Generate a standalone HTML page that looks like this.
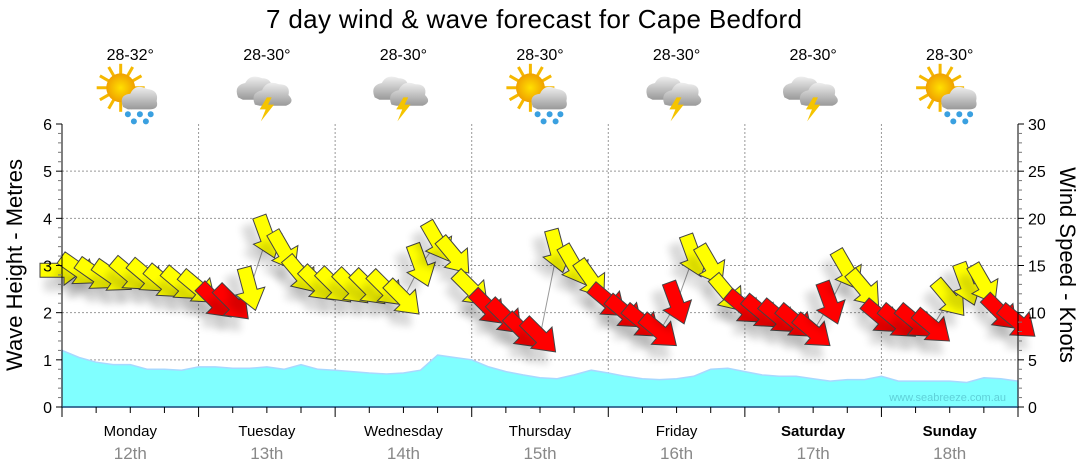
<!DOCTYPE html>
<html><head><meta charset="utf-8"><style>
body{margin:0;background:#fff;font-family:"Liberation Sans",sans-serif}
svg{display:block}
</style></head><body>
<svg id="c" width="1080" height="475" viewBox="0 0 1080 475" xmlns="http://www.w3.org/2000/svg">
<defs>
<filter id="sh" x="-50%" y="-50%" width="200%" height="200%"><feGaussianBlur stdDeviation="4"/></filter>
<radialGradient id="sun" cx="50%" cy="50%" r="50%"><stop offset="0" stop-color="#ffe000"/><stop offset="1" stop-color="#f0a000"/></radialGradient>
<linearGradient id="cl" x1="0" y1="0" x2="0" y2="1"><stop offset="0" stop-color="#eee"/><stop offset="1" stop-color="#999"/></linearGradient>
</defs>
<text x="534" y="28" text-anchor="middle" font-size="26" fill="#000" textLength="536">7 day wind &amp; wave forecast for Cape Bedford</text>
<g id="grid"></g><g id="wave"></g><g id="wind"></g><g id="axes"></g><g id="icons"></g>
<text x="1006" y="401" text-anchor="end" font-size="11" fill="#5fd0d8">www.seabreeze.com.au</text>
<text transform="translate(22,265) rotate(-90)" text-anchor="middle" font-size="22">Wave Height - Metres</text>
<text transform="translate(1060,265) rotate(90)" text-anchor="middle" font-size="22">Wind Speed - Knots</text>
</svg>
<script>
const days=["Monday","Tuesday","Wednesday","Thursday","Friday","Saturday","Sunday"];
const dates=["12th","13th","14th","15th","16th","17th","18th"];
const bold=[false,false,false,false,false,true,true];
const temps=["28-32°","28-30°","28-30°","28-30°","28-30°","28-30°","28-30°"];
const icons=["sunrain","storm","storm","sunrain","storm","storm","sunrain"];
const wave=[1.2,1.05,0.95,0.9,0.9,0.8,0.8,0.78,
0.85,0.85,0.82,0.82,0.85,0.8,0.9,0.8,
0.78,0.75,0.72,0.7,0.72,0.78,1.1,1.05,
1.0,0.85,0.75,0.68,0.62,0.6,0.68,0.78,
0.72,0.65,0.6,0.58,0.6,0.65,0.8,0.82,
0.75,0.68,0.65,0.65,0.6,0.55,0.58,0.58,
0.65,0.55,0.55,0.55,0.55,0.52,0.62,0.6,0.55];
const wind=[14.5,14.5,14,13.8,14,13.8,13.2,13,
12.6,11.2,11,12.5,18,16.5,14,13,
12.8,12.7,12.6,12.5,11.5,15,17.5,16,
12.5,10.5,9.5,8,7.5,16.5,15,13.5,
11.2,10,9,8,11,16,15,12,
10.5,10,9.5,9,8,11,14.5,12.5,
9.5,9,9,8.5,11.5,13,13,10,9];
const dirs=[0,35,35,35,40,40,40,40,
40,45,45,75,70,60,50,45,
45,45,45,45,45,70,60,50,
45,45,45,45,45,75,60,55,
40,40,40,40,70,70,60,50,
40,40,40,40,40,70,60,50,
40,40,40,40,50,70,60,45,40];
const X0=62,X1=1018,Y0=407,Y1=124;
const xs=i=>X0+(X1-X0)*i/56;
const yW=v=>Y0-(Y0-Y1)*v/6;
const yK=v=>Y0-(Y0-Y1)*v/30;
const NS="http://www.w3.org/2000/svg";
function mk(p,t,a){const e=document.createElementNS(NS,t);for(const k in a)e.setAttribute(k,a[k]);p.appendChild(e);return e;}
const G=id=>document.getElementById(id);
for(let m=1;m<=5;m++){const l=mk(G('grid'),'line',{x1:X0,x2:X1,y1:yW(m),y2:yW(m),stroke:'#999','stroke-dasharray':'2,2'});

}
for(let d=1;d<7;d++){const x=X0+(X1-X0)*d/7;const l=mk(G('grid'),'line',{x1:x,x2:x,y1:Y1,y2:Y0,stroke:'#999','stroke-dasharray':'2,2'});

}
let d='M'+X0+','+Y0;wave.forEach((v,i)=>d+=' L'+xs(i).toFixed(1)+','+yW(v).toFixed(1));d+=' L'+X1+','+Y0+'Z';
const wa=mk(G('wave'),'path',{d:d,fill:'#80ffff',stroke:'#a8d8ff','stroke-width':1.5});


let ld='';wind.forEach((v,i)=>ld+=(i?' L':'M')+xs(i).toFixed(1)+','+yK(v).toFixed(1));
const wl=mk(G('wind'),'path',{d:'M'+X0+','+Y0+' L'+ld.slice(1),fill:'none',stroke:'#999'});


const arrow="M-22,-7 L2,-7 L2,-15 L22,0 L2,15 L2,7 L-22,7 Z";
wind.forEach((v,i)=>{const g=mk(G('wind'),'g',{transform:`translate(${xs(i).toFixed(1)},${yK(v).toFixed(1)}) rotate(${dirs[i]})`});


mk(g,'path',{d:arrow,fill:'#000',opacity:0.15,filter:'url(#sh)',transform:'translate(4,14)'});
mk(g,'path',{d:arrow,fill:v>=11.5?'#ffff00':'#ff0000',stroke:'#444','stroke-width':1});});
const A=G('axes');
mk(A,'line',{x1:X0,x2:X0,y1:Y1,y2:Y0,stroke:'#000'});
mk(A,'line',{x1:X1,x2:X1,y1:Y1,y2:Y0,stroke:'#000'});
mk(A,'line',{x1:X0,x2:X1,y1:Y0,y2:Y0,stroke:'#1a4e7a','stroke-width':1.5});
for(let k=0;k<=30;k++){const y=Y0-(Y0-Y1)*k/30;const maj=k%5==0;
mk(A,'line',{x1:X0-(maj?6:4),x2:X0,y1:y,y2:y,stroke:maj?'#000':'#777'});
mk(A,'line',{x1:X1,x2:X1+(maj?6:4),y1:y,y2:y,stroke:maj?'#000':'#777'});
if(maj){const t=mk(A,'text',{x:X0-10,y:y+6,'text-anchor':'end','font-size':16});t.textContent=k/5;


const r=mk(A,'text',{x:X1+10,y:y+6,'font-size':16});r.textContent=k;

}}
for(let q=0;q<=28;q++){const x=X0+(X1-X0)*q/28;mk(A,'line',{x1:x,x2:x,y1:Y0,y2:Y0+(q%4==0?10:6),stroke:'#000'});}
days.forEach((n,i)=>{const cx=X0+(X1-X0)*(i+0.5)/7;
const t=mk(A,'text',{x:cx,y:436,'text-anchor':'middle','font-size':15,'font-weight':bold[i]?'bold':'normal'});t.textContent=n;


const s=mk(A,'text',{x:cx,y:459,'text-anchor':'middle','font-size':17,fill:'#888'});s.textContent=dates[i];


const tt=mk(G('icons'),'text',{x:cx,y:60,'text-anchor':'middle','font-size':16});tt.textContent=temps[i];


const g=mk(G('icons'),'g',{transform:`translate(${cx},95) scale(1.2)`});


if(icons[i]=='sunrain'){for(let a=0;a<360;a+=30)mk(g,'line',{x1:-8,y1:-6,x2:-8+20*Math.cos(a*Math.PI/180),y2:-6+20*Math.sin(a*Math.PI/180),stroke:'#f5b800','stroke-width':2.5});
mk(g,'circle',{cx:-8,cy:-6,r:12,fill:'url(#sun)'});
mk(g,'path',{d:'M-6,10 Q-10,0 0,-1 Q4,-10 14,-5 Q24,-4 22,5 Q24,12 16,12 L-2,12 Z',fill:'url(#cl)'});
[[-2,16],[8,16],[17,16],[3,22],[13,22]].forEach(p=>mk(g,'circle',{cx:p[0],cy:p[1],r:2.5,fill:'#3aa0e0'}));}
else{mk(g,'path',{d:'M-24,2 Q-28,-8 -18,-10 Q-14,-18 -4,-14 Q4,-14 4,-6 Q10,-2 4,4 L-20,4 Z',fill:'url(#cl)'});
mk(g,'path',{d:'M-10,8 Q-14,-2 -4,-4 Q0,-13 10,-9 Q20,-9 18,0 Q24,6 16,9 L-6,9 Z',fill:'url(#cl)'});
mk(g,'path',{d:'M0,2 L-6,12 L-1,12 L-5,22 L6,8 L1,8 L4,2 Z',fill:'#f5c400'});}
});
</script>
</body></html>
